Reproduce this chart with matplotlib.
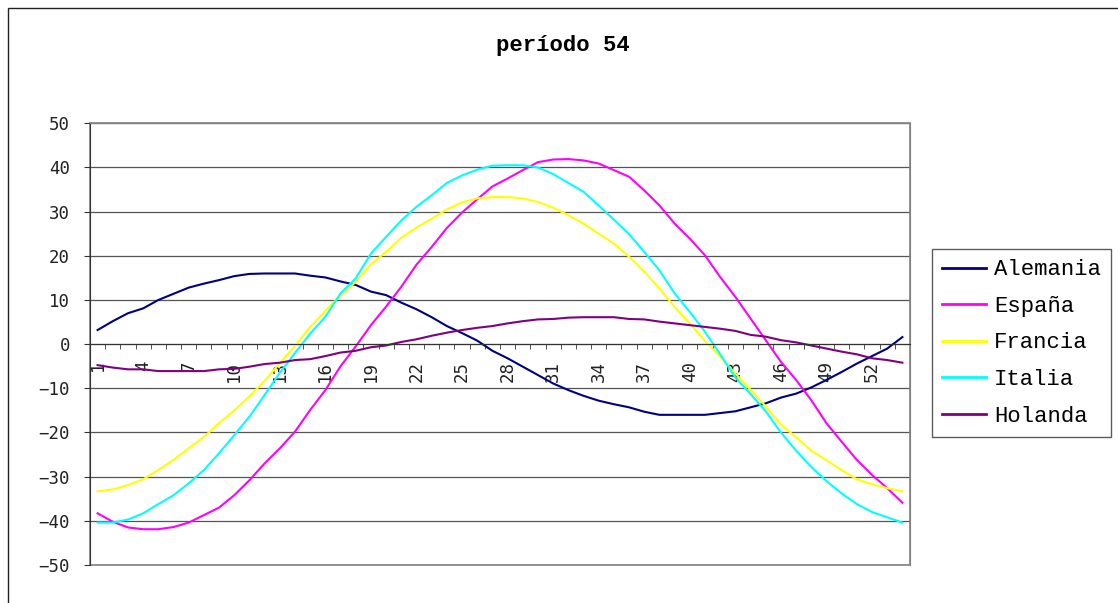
import matplotlib.pyplot as plt
from matplotlib.patches import Rectangle
from matplotlib.ticker import FixedLocator

semanas = list(range(1, 55))

alemania = [3.2, 5.2, 7.0, 8.1, 10.0, 11.4, 12.8, 13.7, 14.5, 15.4,
            15.9, 16.0, 16.0, 16.0, 15.5, 15.1, 14.2, 13.4, 11.9, 11.1,
            9.4, 7.9, 6.1, 4.1, 2.5, 0.8, -1.5, -3.2, -5.1, -7.0,
            -8.9, -10.4, -11.7, -12.8, -13.6, -14.3, -15.3, -16.0, -16.0, -16.0,
            -16.0, -15.6, -15.2, -14.3, -13.4, -12.1, -11.2, -9.8, -8.1, -6.3,
            -4.4, -2.7, -1.0, 1.6]
espana = [-38.3, -40.2, -41.5, -41.9, -41.9, -41.4, -40.4, -38.7, -37.0, -34.2,
          -30.8, -27.0, -23.6, -19.8, -14.9, -10.4, -5.0, -0.5, 4.3, 8.5,
          13.0, 18.0, 22.0, 26.3, 29.8, 32.8, 35.7, 37.5, 39.4, 41.2,
          41.8, 41.9, 41.6, 40.9, 39.4, 37.9, 34.8, 31.4, 27.3, 23.9,
          20.1, 15.2, 10.7, 5.8, 0.9, -4.0, -8.1, -12.7, -17.9, -22.1,
          -26.2, -29.6, -32.6, -35.9]
francia = [-33.3, -32.9, -31.9, -30.6, -28.5, -26.2, -23.6, -21.0, -17.9, -15.0,
           -11.8, -8.3, -4.3, -0.4, 3.9, 7.5, 11.1, 14.1, 18.1, 20.9,
           24.1, 26.4, 28.4, 30.5, 32.1, 33.0, 33.3, 33.3, 33.0, 32.2,
           30.9, 29.2, 27.3, 25.0, 22.8, 19.8, 16.4, 12.6, 8.4, 4.7,
           0.7, -2.8, -6.7, -10.3, -14.1, -18.2, -21.1, -24.1, -26.3, -28.5,
           -30.6, -31.7, -32.6, -33.3]
italia = [-40.4, -40.4, -39.7, -38.3, -36.2, -34.2, -31.5, -28.5, -24.7, -20.6,
          -16.4, -11.5, -6.5, -2.0, 2.4, 6.2, 11.5, 14.9, 20.5, 24.3,
          28.0, 31.1, 33.7, 36.5, 38.2, 39.5, 40.4, 40.5, 40.5, 40.0,
          38.5, 36.5, 34.5, 31.4, 28.2, 24.9, 20.9, 16.7, 11.5, 7.3,
          2.8, -2.3, -7.5, -11.3, -15.2, -20.0, -24.1, -27.8, -31.0, -33.8,
          -36.2, -38.0, -39.2, -40.4]
holanda = [-4.75, -5.3, -5.7, -5.7, -6.1, -6.1, -6.1, -6.1, -5.7, -5.6,
           -5.1, -4.5, -4.2, -3.6, -3.4, -2.7, -1.9, -1.5, -0.7, -0.3,
           0.5, 1.1, 1.9, 2.6, 3.2, 3.7, 4.1, 4.7, 5.2, 5.6,
           5.7, 6.0, 6.1, 6.1, 6.1, 5.7, 5.6, 5.1, 4.7, 4.3,
           3.9, 3.5, 3.0, 2.1, 1.7, 0.9, 0.4, -0.3, -1.0, -1.7,
           -2.3, -3.2, -3.6, -4.2]

series = [("Alemania", alemania, "#000080"),
          ("España", espana, "#FF00FF"),
          ("Francia", francia, "#FFFF00"),
          ("Italia", italia, "#00FFFF"),
          ("Holanda", holanda, "#800080")]

y_ticks = list(range(-50, 51, 10))
x_label_pos = semanas[::3]

mono = "Liberation Mono"
tick_font = "DejaVu Sans Mono"

fig = plt.figure(figsize=(11.18, 6.03), dpi=100)
ax = fig.add_axes([90 / 1118, 1 - 565 / 603, 820 / 1118, 441.7 / 603])

for name, vals, col in series:
    ax.plot(semanas, vals, color=col, lw=1.5, label=name)

ax.set_xlim(0.5, 54.5)
ax.set_ylim(-50, 50)

# gridlines
for v in y_ticks:
    ax.axhline(v, color="#555555", lw=0.9, zorder=0)

# spines: x axis sits on the zero line, plot area gets a grey frame
for s in ["top", "right"]:
    ax.spines[s].set_color("#808080")
ax.spines["left"].set_color("#333333")
ax.spines["bottom"].set_position(("data", 0))
ax.spines["bottom"].set_color("#333333")
ax.add_patch(Rectangle((0, 0), 1, 1, transform=ax.transAxes, fill=False,
                       edgecolor="#808080", lw=1.2, zorder=0.5, clip_on=False))

ax.set_yticks(y_ticks)
ax.set_yticklabels([str(v).replace("-", "\u2212") for v in y_ticks],
                   family=tick_font, fontsize=12.5, color="#222222")
ax.tick_params(axis="y", direction="out", length=4.3, color="#333333", pad=10)

ax.set_xticks(x_label_pos)
ax.set_xticklabels([str(v) for v in x_label_pos], rotation=90,
                   family=tick_font, fontsize=12.5, color="#222222", va="top")
ax.xaxis.set_minor_locator(FixedLocator([k + 0.5 for k in range(0, 55)]))
ax.tick_params(axis="x", which="major", length=0, pad=12)
ax.tick_params(axis="x", which="minor", direction="out", length=3.6, color="#333333")

fig.text(563 / 1118, 1 - 46 / 603, "período 54", family=mono, weight="bold",
         fontsize=16, ha="center", va="center")

leg = fig.legend(loc="center left", bbox_to_anchor=(932 / 1118, 1 - 343 / 603),
                 prop={"family": mono, "size": 16}, frameon=True, fancybox=False,
                 handlelength=2.0, handletextpad=0.35, labelspacing=0.7,
                 borderpad=0.45, borderaxespad=0)
leg.get_frame().set_edgecolor("#333333")
leg.get_frame().set_linewidth(1.0)
for line in leg.get_lines():
    line.set_linewidth(2.0)

# chart area border
fig.patches.append(Rectangle((8 / 1118, -0.1), 2, 1 - 8 / 603 + 0.1,
                             transform=fig.transFigure, fill=False,
                             edgecolor="#222222", lw=1.0))

fig.savefig("out.png", dpi=100)
